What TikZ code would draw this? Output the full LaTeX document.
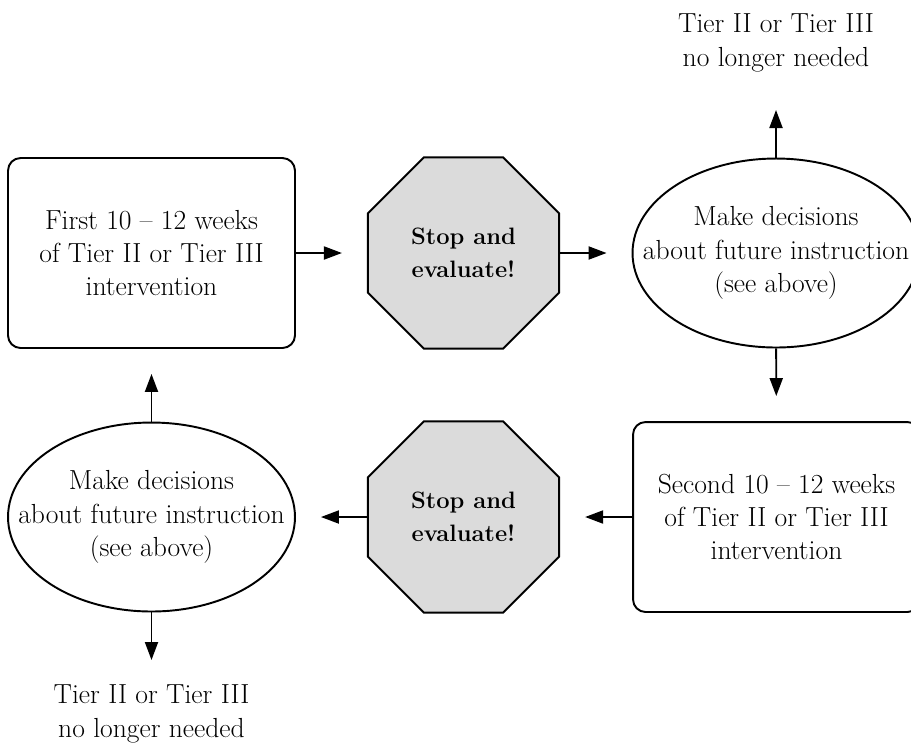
\documentclass[tikz,border=0pt]{standalone}
\usepackage{fontspec}
\usetikzlibrary{shapes.geometric,arrows.meta}
\begin{document}
\begin{tikzpicture}[x=0.02cm, y=-0.02cm, line width=1.1pt, >={Triangle[length=0.36cm,width=0.26cm]},
  font=\fontsize{15.7}{19}\selectfont,
  caja/.style={rectangle, draw, rounded corners=0.25cm, minimum width=5.74cm, minimum height=3.8cm, align=center},
  alto/.style={regular polygon, regular polygon sides=8, draw, fill=black!14, minimum size=4.14cm, inner sep=0pt, align=center, font=\fontsize{13.5}{19}\selectfont\bfseries},
  decision/.style={ellipse, draw, minimum width=5.74cm, minimum height=3.78cm, inner xsep=-1.2cm, align=center},
  flecha/.style={->, shorten >=0.5cm}]
\useasboundingbox (0,0) rectangle (911,745);
% Nodos
\node [caja] (C1) at (151.5,253) {First 10 -- 12 weeks\\of Tier II or Tier III\\intervention};
\node [alto] (A1) at (463.5,253) {Stop and\\evaluate!};
\node [decision] (D1) at (776,253) {Make decisions\\about future instruction\\(see above)};
\node [align=center] (T1) at (776,43) {Tier II or Tier III\\no longer needed};
\coordinate (S1) at (776,110);
\node [caja] (C2) at (776.5,517) {Second 10 -- 12 weeks\\of Tier II or Tier III\\intervention};
\node [alto] (A2) at (463.5,517) {Stop and\\evaluate!};
\node [decision] (D2) at (151.5,517) {Make decisions\\about future instruction\\(see above)};
\node [align=center] (T2) at (151.5,714) {Tier II or Tier III\\no longer needed};
\coordinate (S2) at (151.5,660);
% Flechas
\path (C1) edge [flecha] (A1);
\path (A1) edge [flecha] (D1);
\path (D1) edge [->] (S1);
\path (D1) edge [flecha] (C2);
\path (C2) edge [flecha] (A2);
\path (A2) edge [flecha] (D2);
\path (D2) edge [flecha] (C1);
\path (D2) edge [->] (S2);
\end{tikzpicture}
\end{document}
